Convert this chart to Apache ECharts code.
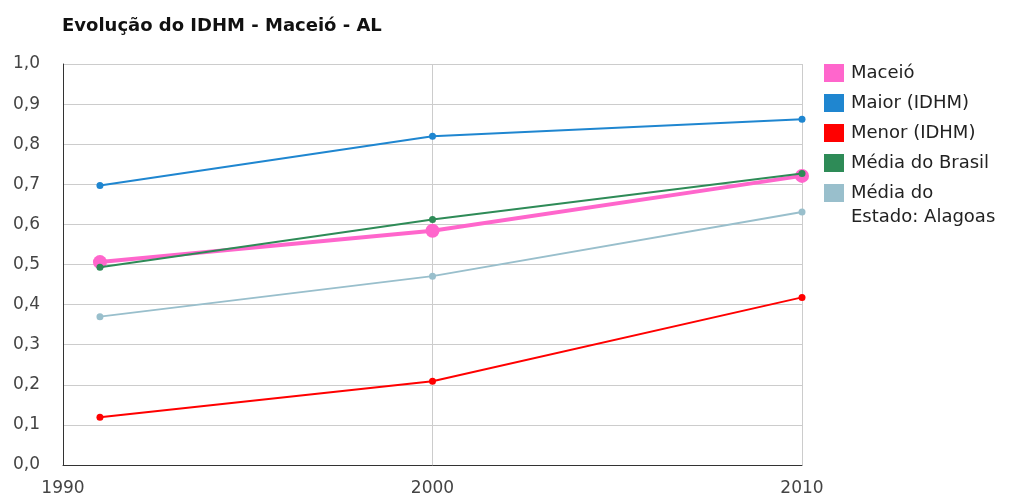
<!DOCTYPE html>
<html><head><meta charset="utf-8">
<script src="https://cdn.jsdelivr.net/npm/echarts@6/dist/echarts.min.js"></script>
<style>html,body{margin:0;padding:0;background:#fff}#c{width:1010px;height:497px}</style>
</head><body><div id="c"></div>
<script>
const years = [1991, 2000, 2010];
const seriesNames = ['Maceió', 'Maior (IDHM)', 'Menor (IDHM)', 'Média do Brasil', 'Média do Estado: Alagoas'];
const maceio = [0.506, 0.584, 0.721];
const maior = [0.697, 0.820, 0.862];
const menor = [0.119, 0.209, 0.418];
const brasil = [0.493, 0.612, 0.727];
const alagoas = [0.370, 0.471, 0.631];
const colors = ['#FF66CC', '#1F86D0', '#FF0000', '#2E8B57', '#99BFCC'];
const values = [maceio, maior, menor, brasil, alagoas];

const font = 'DejaVu Sans, Verdana, sans-serif';
const chart = echarts.init(document.getElementById('c'));
chart.setOption({
  animation: false,
  title: {
    text: 'Evolução do IDHM - Maceió - AL',
    left: 57, top: 12, padding: 5,
    textStyle: { fontFamily: font, fontSize: 18, fontWeight: 'bold', color: '#111' }
  },
  legend: [{
    orient: 'vertical', left: 824, top: 64, padding: 0,
    itemWidth: 20, itemHeight: 18, itemGap: 12,
    icon: 'rect',
    data: seriesNames.slice(0, 4),
    textStyle: { fontFamily: font, fontSize: 18, color: '#222', lineHeight: 18, padding: [0, 0, 0, 2] }
  }, {
    orient: 'vertical', left: 824, top: 157, padding: 0,
    itemWidth: 20, itemHeight: 18,
    icon: 'rect',
    data: seriesNames.slice(4),
    formatter: name => '\n' + name.replace('do ', 'do\n'),
    textStyle: { fontFamily: font, fontSize: 18, color: '#222', lineHeight: 24, padding: [0, 0, 0, 2] }
  }],
  grid: { left: 63, right: 208, top: 64, bottom: 31 },
  xAxis: {
    type: 'value', min: 1990, max: 2010, interval: 10,
    axisLine: { show: true, lineStyle: { color: '#333', width: 1 } },
    axisTick: { show: false },
    splitLine: { show: true, lineStyle: { color: '#ccc', width: 1 } },
    axisLabel: { color: '#444', fontFamily: font, fontSize: 17, margin: 15,
      showMinLabel: true, showMaxLabel: true, formatter: v => String(v) }
  },
  yAxis: {
    type: 'value', min: 0, max: 1, interval: 0.1,
    axisLine: { show: true, lineStyle: { color: '#333', width: 1 } },
    axisTick: { show: false },
    splitLine: { show: true, lineStyle: { color: '#ccc', width: 1 } },
    axisLabel: { color: '#444', fontFamily: font, fontSize: 17, margin: 23, padding: [6, 0, 0, 0],
      formatter: v => v.toFixed(1).replace('.', ',') }
  },
  series: seriesNames.map((n, i) => ({
    name: n, type: 'line',
    data: years.map((y, j) => [y, values[i][j]]),
    symbol: 'circle',
    symbolSize: i === 0 ? 14 : 7,
    lineStyle: { color: colors[i], width: i === 0 ? 4 : 2 },
    itemStyle: { color: colors[i] },
    z: 2 + i
  }))
});
</script></body></html>
